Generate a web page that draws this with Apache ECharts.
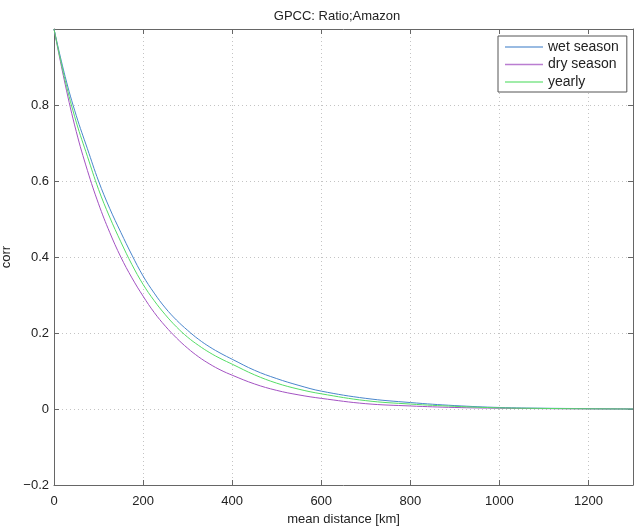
<!DOCTYPE html>
<html>
<head>
<meta charset="utf-8">
<script src="https://cdn.jsdelivr.net/npm/echarts@6/dist/echarts.min.js"></script>
<style>html,body{margin:0;padding:0;background:#fff}#c{width:635px;height:527px}</style>
</head>
<body>
<div id="c"></div>
<script>
const distances = [0,25,50,75,100,125,150,175,200,225,250,275,300,325,350,375,400,450,500,550,600,700,800,900,1000,1100,1200,1300];
const wetSeason = [1.0,0.875,0.772,0.685,0.600,0.528,0.465,0.405,0.350,0.305,0.266,0.234,0.207,0.183,0.163,0.146,0.131,0.102,0.080,0.062,0.047,0.028,0.017,0.009,0.004,0.002,0.001,0.0];
const drySeason = [1.0,0.855,0.730,0.628,0.540,0.465,0.400,0.345,0.297,0.254,0.218,0.187,0.160,0.137,0.118,0.102,0.089,0.066,0.049,0.037,0.028,0.014,0.008,0.004,0.002,0.001,0.0003,0.0];
const yearly    = [1.0,0.865,0.755,0.665,0.578,0.505,0.440,0.380,0.328,0.285,0.248,0.216,0.189,0.167,0.148,0.132,0.118,0.090,0.068,0.052,0.040,0.022,0.013,0.007,0.003,0.0015,0.0005,0.0];
const seriesNames = ['wet season','dry season','yearly'];
const seriesColors = ['#4a86cc','#a352c2','#55dd66'];
const titleText = 'GPCC: Ratio;Amazon';
const xName = 'mean distance [km]';
const yName = 'corr';

const font = '"Liberation Sans", Arial, Helvetica, sans-serif';
const axisCol = '#666';
const pair = arr => distances.map((d,i)=>[d,arr[i]]);
const fmtY = v => { const r = Math.round(v*10)/10; return r === 0 ? '0' : String(r).replace('-', '\u2212'); };
const fmtX = v => String(Math.round(v));

const chart = echarts.init(document.getElementById('c'), null, {renderer:'canvas'});
const baseAxis = {
  axisLine:{show:true,onZero:false,lineStyle:{color:axisCol,width:1}},
  axisTick:{show:true,inside:true,length:5,lineStyle:{color:axisCol}},
};
chart.setOption({
  animation:false,
  backgroundColor:'#fff',
  title:{text:titleText,left:332,top:5,textAlign:'center',
    textStyle:{fontFamily:font,fontSize:13,fontWeight:'normal',color:'#222'}},
  grid:{left:54,top:29,width:579,height:456,containLabel:false,outerBoundsMode:'none'},
  legend:{
    data:seriesNames.map((n,i)=>({name:n,icon:'rect',itemStyle:{color:seriesColors[i],opacity:0.75}})),
    orient:'vertical', left:498, top:36,
    itemWidth:38, itemHeight:1.4, itemGap:1.5, padding:[3,8,2,7],
    backgroundColor:'#fff', borderColor:'#555', borderWidth:1, borderRadius:0,
    textStyle:{fontFamily:font,fontSize:14,color:'#222',lineHeight:16}
  },
  xAxis:[
    Object.assign({type:'value',min:0,max:1300,interval:200,position:'bottom',
      name:xName,nameLocation:'middle',nameGap:26,
      nameTextStyle:{fontFamily:font,fontSize:13,color:'#222'},
      axisLabel:{fontFamily:font,fontSize:13,color:'#222',margin:10,showMaxLabel:false,formatter:fmtX},
      splitLine:{show:true,lineStyle:{type:[1,3],color:'#c4c4c4'}}}, baseAxis),
    Object.assign({type:'value',min:0,max:1300,interval:200,position:'top',
      axisLabel:{show:false},splitLine:{show:false}}, baseAxis)
  ],
  yAxis:[
    Object.assign({type:'value',min:-0.2,max:1,interval:0.2,position:'left',
      name:yName,nameLocation:'middle',nameGap:30,nameRotate:90,
      nameTextStyle:{fontFamily:font,fontSize:13,color:'#222'},
      axisLabel:{fontFamily:font,fontSize:13,color:'#222',margin:5,showMaxLabel:false,formatter:fmtY},
      splitLine:{show:true,lineStyle:{type:[1,3],color:'#c4c4c4'}}}, baseAxis),
    Object.assign({type:'value',min:-0.2,max:1,interval:0.2,position:'right',
      axisLabel:{show:false},splitLine:{show:false}}, baseAxis)
  ],
  series:[
    {name:seriesNames[0],type:'line',data:pair(wetSeason),symbol:'none',smooth:0.4,
      lineStyle:{width:1,color:seriesColors[0]},itemStyle:{color:seriesColors[0]},z:3},
    {name:seriesNames[1],type:'line',data:pair(drySeason),symbol:'none',smooth:0.4,
      lineStyle:{width:1,color:seriesColors[1]},itemStyle:{color:seriesColors[1]},z:3},
    {name:seriesNames[2],type:'line',data:pair(yearly),symbol:'none',smooth:0.4,
      lineStyle:{width:1,color:seriesColors[2]},itemStyle:{color:seriesColors[2]},z:3}
  ]
});
</script>
</body>
</html>
